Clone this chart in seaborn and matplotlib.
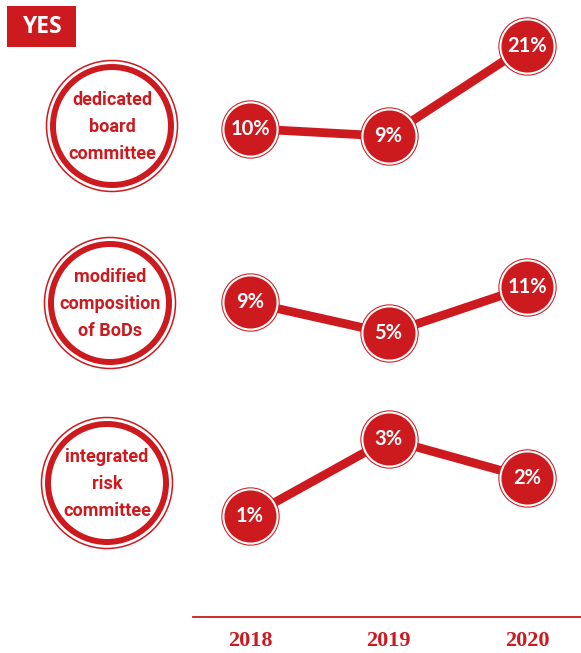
import numpy as np
import pandas as pd
import matplotlib
matplotlib.use('Agg')
import matplotlib.pyplot as plt
import seaborn as sns
from matplotlib.patches import Circle, Rectangle

# data
years = [2018, 2019, 2020]
labels = ['dedicated\nboard\ncommittee', 'modified\ncomposition\nof BoDs', 'integrated\nrisk\ncommittee']
dedicated_board = [10, 9, 21]
modified_bods = [9, 5, 11]
integrated_risk = [1, 3, 2]
series = [dedicated_board, modified_bods, integrated_risk]

RED = '#cc1a1f'
W, H = 581, 653

sns.set_theme(style='white')
plt.rcParams['font.family'] = ['Lato', 'DejaVu Sans']

fig = plt.figure(figsize=(W / 100, H / 100), dpi=100)
fig.patch.set_facecolor('white')

def px_axes(x0, y0, x1, y1):
    # add axes from pixel box (y measured from top)
    return fig.add_axes([x0 / W, 1 - y1 / H, (x1 - x0) / W, (y1 - y0) / H])

# background axes in pixel coords for the badge circles and the YES box
bg = px_axes(0, 0, W, H)
bg.set_xlim(0, W)
bg.set_ylim(H, 0)
bg.axis('off')

bg.add_patch(Rectangle((7, 6), 69, 41, color=RED, lw=0))
bg.text(41.5, 27, 'YES', color='white', fontsize=16.5, fontweight='bold',
        ha='center', va='center', family=['Open Sans', 'DejaVu Sans'])

badge_centres = [(112, 126), (110, 303), (107, 483)]
for (cx, cy), lab in zip(badge_centres, labels):
    bg.add_patch(Circle((cx, cy), 65.5, fill=False, ec=RED, lw=1.1))
    bg.add_patch(Circle((cx, cy), 59, fill=False, ec=RED, lw=4.3))
    bg.text(cx, cy + 1, lab, color=RED, fontsize=13, fontweight='bold',
            ha='center', va='center', linespacing=1.62,
            family=['Liberation Sans Narrow', 'Roboto', 'DejaVu Sans'])

# one small axes per row, each with its own value scale
row_boxes = [(193, 10, 581, 210), (193, 210, 581, 410), (193, 410, 581, 610)]
row_ylims = [(-0.80, 25.76), (-4.88, 20.93), (-1.44, 3.76)]
xlim = (2017.588, 2020.39)

for vals, box, yl in zip(series, row_boxes, row_ylims):
    ax = px_axes(*box)
    df = pd.DataFrame({'year': years, 'value': vals})
    sns.lineplot(data=df, x='year', y='value', ax=ax, color=RED, lw=6.3,
                 solid_capstyle='butt', zorder=1)
    ax.scatter(df['year'], df['value'], s=42 ** 2, color=RED, lw=0, zorder=2, clip_on=False)
    ax.scatter(df['year'], df['value'], s=40.5 ** 2, color='white', lw=0, zorder=3, clip_on=False)
    ax.scatter(df['year'], df['value'], s=37.5 ** 2, color=RED, lw=0, zorder=4, clip_on=False)
    for x, v in zip(df['year'], df['value']):
        ax.text(x, v, f'{v}%', color='white', fontsize=14.5, fontweight='bold',
                ha='center', va='center', zorder=5)
    ax.set_xlim(*xlim)
    ax.set_ylim(*yl)
    ax.axis('off')

# year axis at the bottom
xa = px_axes(193, 560, 581, 617)
xa.set_xlim(*xlim)
xa.set_ylim(0, 1)
for s in ['top', 'left', 'right']:
    xa.spines[s].set_visible(False)
xa.spines['bottom'].set_color(RED)
xa.spines['bottom'].set_linewidth(1.3)
xa.set_yticks([])
xa.set_xticks(years)
xa.set_xticklabels([str(y) for y in years], color=RED, fontsize=16, fontweight='bold',
                   family=['Liberation Serif', 'DejaVu Serif'])
xa.tick_params(axis='x', length=0, pad=10)
xa.set_xlabel('')
xa.patch.set_alpha(0)

fig.savefig('out.png', dpi=100)
